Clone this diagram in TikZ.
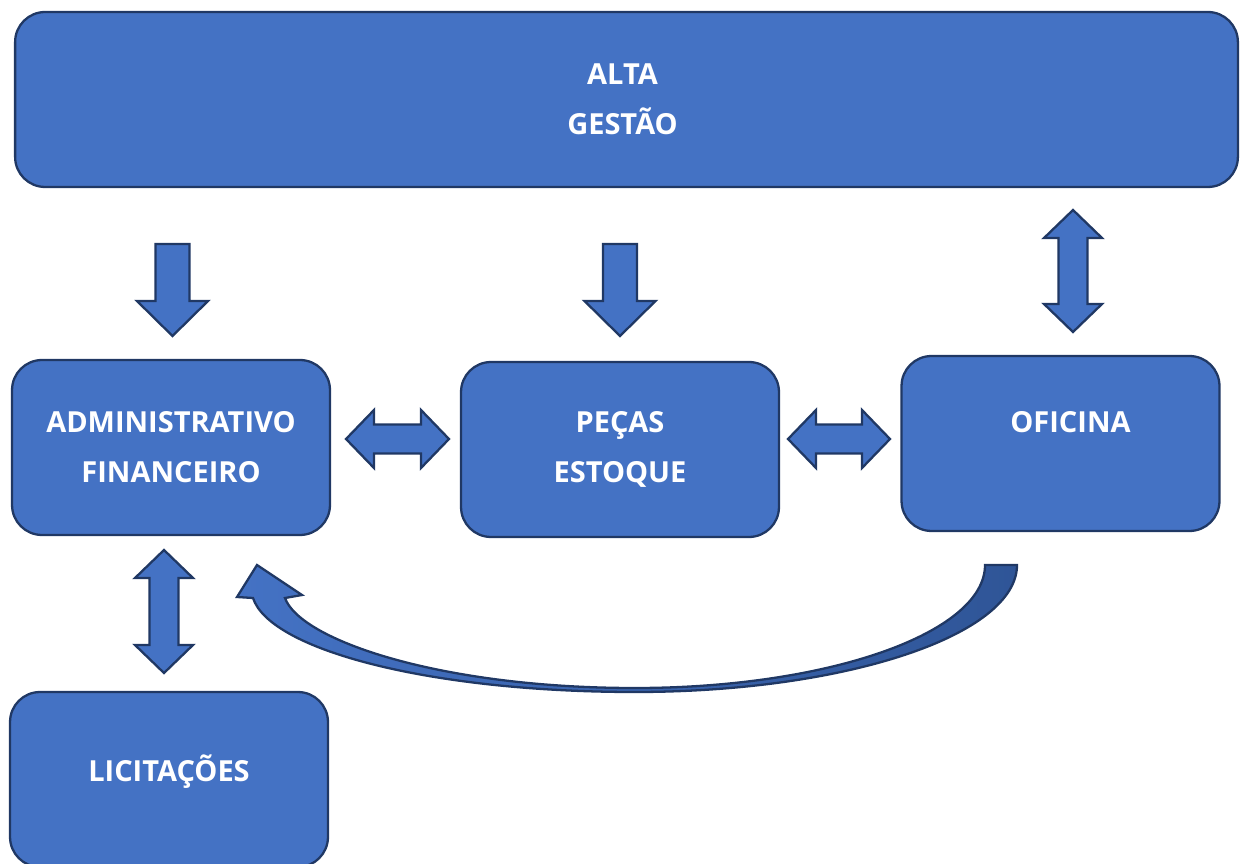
\documentclass[tikz,border=0pt]{standalone}
\usepackage{fontspec}
\setmainfont{Open Sans}
\definecolor{boxblue}{HTML}{4472C4}
\definecolor{boxedge}{HTML}{203864}
\definecolor{tailblue}{HTML}{2F5597}
\newcommand{\blockNode}{\node[rectangle,draw=boxedge,line width=1.3pt,fill=boxblue,rounded corners=0.6cm,text=white,font=\bfseries\fontsize{16.5}{28.5}\selectfont,align=center,minimum width=6.36cm,minimum height=3.5cm,inner sep=0pt]}
\tikzset{
  blockarrow/.style={draw=boxedge,line width=1.3pt,fill=boxblue,line join=miter},
  pics/dnarrow/.style={code={
    \draw[blockarrow] (-17,0) -- (17,0) -- (17,57) -- (35.5,57) -- (0,92) -- (-35.5,57) -- (-17,57) -- cycle;}},
  pics/vdbl/.style={code={
    \draw[blockarrow] (0,-#1) -- (29,{28-#1}) -- (14.5,{28-#1}) -- (14.5,{#1-28}) -- (29,{#1-28}) -- (0,#1)
      -- (-29,{#1-28}) -- (-14.5,{#1-28}) -- (-14.5,{28-#1}) -- (-29,{28-#1}) -- cycle;}},
  pics/hdbl/.style={code={
    \draw[blockarrow] (-#1,0) -- ({28-#1},29) -- ({28-#1},14.5) -- ({#1-28},14.5) -- ({#1-28},29) -- (#1,0)
      -- ({#1-28},-29) -- ({#1-28},-14.5) -- ({28-#1},-14.5) -- ({28-#1},-29) -- cycle;}}
}

\begin{document}
\begin{tikzpicture}[x=0.02cm,y=-0.02cm]

    \useasboundingbox (0,0) rectangle (1240,864);

    \blockNode[minimum width=24.46cm] (alta) at (626.5,99.5) {\hspace*{-0.16cm}ALTA\\\hspace*{-0.16cm}GESTÃO};
    \blockNode (adm) at (171,447.5) {ADMINISTRATIVO\\FINANCEIRO};
    \blockNode (pecas) at (620,449.5) {PEÇAS\\ESTOQUE};
    \blockNode (oficina) at (1060.5,443.5) {\hspace*{0.4cm}OFICINA\\[-0.16cm]\mbox{}};
    \blockNode[text depth=0.45cm] (licit) at (169,779.5) {LICITAÇÕES};

    % block arrows
    \pic at (172.5,244) {dnarrow};
    \pic at (620,244) {dnarrow};
    \pic at (1073,271) {vdbl=61};
    \pic at (164,611.5) {vdbl=61.5};
    \pic at (397.5,439) {hdbl=51.5};
    \pic at (839,439) {hdbl=51};

    % curved arrow back from oficina
    \draw[blockarrow,left color=boxblue,right color=tailblue]
      (985,565) -- (1017,565)
      .. controls (1017,635) and (846,692) .. (635,692)
      .. controls (430,692) and (270,650) .. (253,598)
      -- (237,597) -- (257,565) -- (302,595) -- (285,598)
      .. controls (300,640) and (440,688) .. (635,688)
      .. controls (828,688) and (985,633) .. (985,565) -- cycle;

\end{tikzpicture}
\end{document}
